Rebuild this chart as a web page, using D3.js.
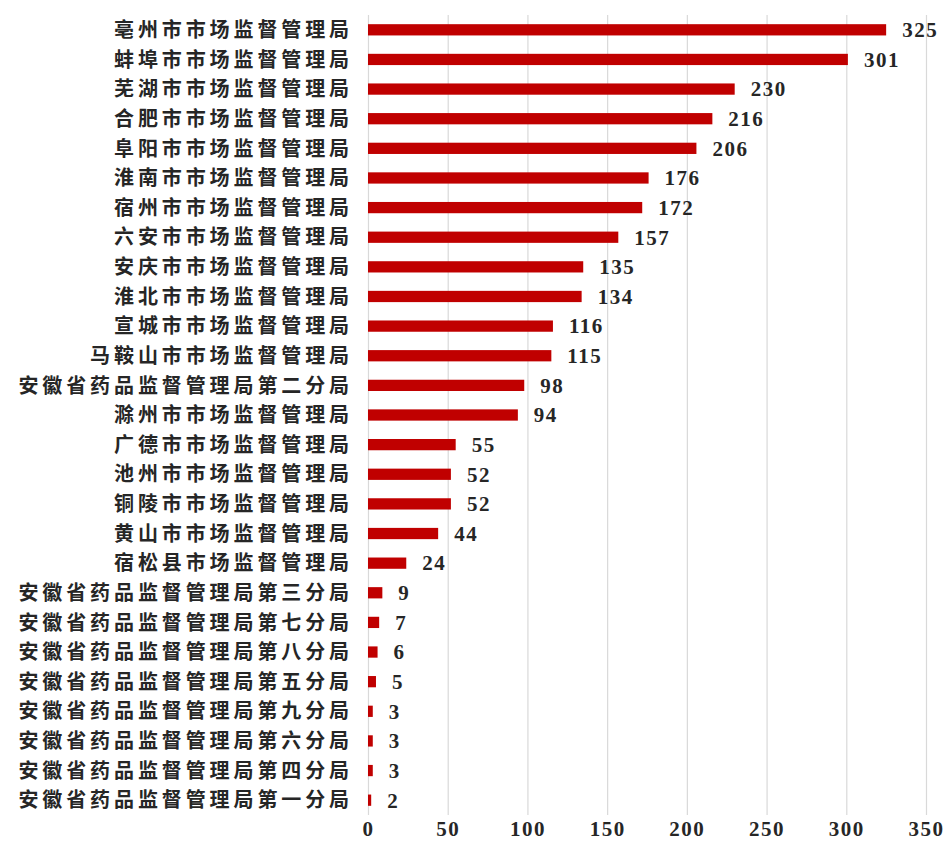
<!DOCTYPE html>
<html>
<head>
<meta charset="utf-8">
<script src="https://cdn.jsdelivr.net/npm/d3@7"></script>
<style>
  html, body { margin: 0; padding: 0; background: #fff; }
  svg { display: block; }
</style>
</head>
<body>
<svg id="chart" width="944" height="853"></svg>
<script>
// Horizontal bar chart: counts per bureau.

const categories = [
  "亳州市市场监督管理局",
  "蚌埠市市场监督管理局",
  "芜湖市市场监督管理局",
  "合肥市市场监督管理局",
  "阜阳市市场监督管理局",
  "淮南市市场监督管理局",
  "宿州市市场监督管理局",
  "六安市市场监督管理局",
  "安庆市市场监督管理局",
  "淮北市市场监督管理局",
  "宣城市市场监督管理局",
  "马鞍山市市场监督管理局",
  "安徽省药品监督管理局第二分局",
  "滁州市市场监督管理局",
  "广德市市场监督管理局",
  "池州市市场监督管理局",
  "铜陵市市场监督管理局",
  "黄山市市场监督管理局",
  "宿松县市场监督管理局",
  "安徽省药品监督管理局第三分局",
  "安徽省药品监督管理局第七分局",
  "安徽省药品监督管理局第八分局",
  "安徽省药品监督管理局第五分局",
  "安徽省药品监督管理局第九分局",
  "安徽省药品监督管理局第六分局",
  "安徽省药品监督管理局第四分局",
  "安徽省药品监督管理局第一分局",
];

const values = [325, 301, 230, 216, 206, 176, 172, 157, 135, 134, 116, 115, 98, 94, 55, 52, 52, 44, 24, 9, 7, 6, 5, 3, 3, 3, 2];

const xTicks = [0, 50, 100, 150, 200, 250, 300, 350];

const margin = { top: 15, right: 18, bottom: 38, left: 368 };
const width = 944;
const height = 853;

const BAR_COLOR = "#c00000";
const GRID_COLOR = "#d9d9d9";
const TEXT_COLOR = "#262626";
const CJK_FONT = "'Noto Sans CJK SC', 'Noto Sans', sans-serif";
const NUM_FONT = "'Liberation Serif', 'DejaVu Serif', serif";

const svg = d3.select("#chart");

const x = d3.scaleLinear()
  .domain([0, 350])
  .range([margin.left, 926]);

const y = d3.scaleBand()
  .domain(categories)
  .range([margin.top, height - margin.bottom])
  .paddingInner(0.62)
  .paddingOuter(0.31);

// vertical grid
svg.append("g")
  .selectAll("line")
  .data(xTicks)
  .join("line")
  .attr("x1", (d) => x(d) + 0.5)
  .attr("x2", (d) => x(d) + 0.5)
  .attr("y1", margin.top)
  .attr("y2", height - margin.bottom)
  .attr("stroke", GRID_COLOR)
  .attr("stroke-width", 1.2);

// x axis labels (no domain line, no ticks)
const xAxis = d3.axisBottom(x).tickValues(xTicks).tickSize(0).tickPadding(0);
svg.append("g")
  .attr("transform", `translate(0,${height - margin.bottom + 6})`)
  .call(xAxis)
  .call((g) => g.select(".domain").remove())
  .call((g) => g.selectAll("text")
    .attr("dy", "0.71em")
    .attr("fill", TEXT_COLOR)
    .style("font-family", NUM_FONT)
    .style("font-weight", "bold")
    .style("font-size", "21px")
    .style("letter-spacing", "1.5px"));

// bars
svg.append("g")
  .selectAll("rect")
  .data(values)
  .join("rect")
  .attr("x", x(0))
  .attr("y", (d, i) => y(categories[i]))
  .attr("width", (d) => x(d) - x(0))
  .attr("height", y.bandwidth())
  .attr("fill", BAR_COLOR);

// value labels
svg.append("g")
  .selectAll("text")
  .data(values)
  .join("text")
  .attr("x", (d) => x(d) + 16)
  .attr("y", (d, i) => y(categories[i]) + y.bandwidth() / 2)
  .attr("dy", "0.35em")
  .attr("fill", TEXT_COLOR)
  .style("font-family", NUM_FONT)
  .style("font-weight", "bold")
  .style("font-size", "21px")
  .style("letter-spacing", "1.5px")
  .text((d) => d);

// category labels
svg.append("g")
  .selectAll("text")
  .data(categories)
  .join("text")
  .attr("x", 353)
  .attr("y", (d) => y(d) + y.bandwidth() / 2)
  .attr("dy", "0.36em")
  .attr("text-anchor", "end")
  .attr("fill", TEXT_COLOR)
  .style("font-family", CJK_FONT)
  .style("font-weight", "bold")
  .style("font-size", "20px")
  .style("letter-spacing", "3.9px")
  .text((d) => d);
</script>
</body>
</html>
